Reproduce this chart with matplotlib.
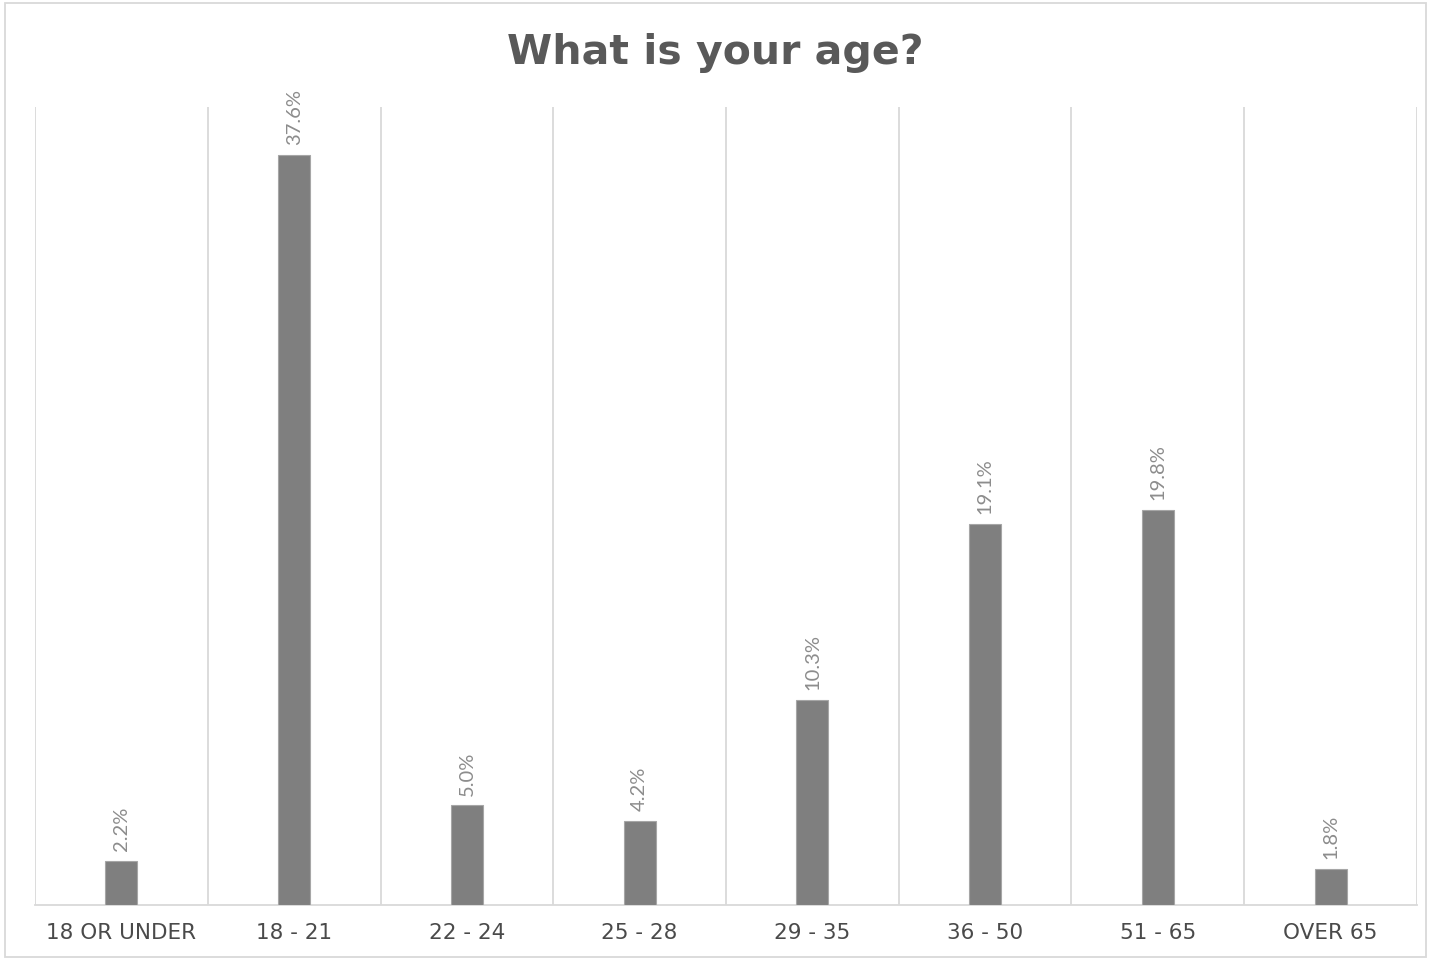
import matplotlib
matplotlib.use("Agg")
import matplotlib.pyplot as plt
import numpy as np

# --- data ---
categories = ['18 OR UNDER', '18 - 21', '22 - 24', '25 - 28',
              '29 - 35', '36 - 50', '51 - 65', 'OVER 65']
percent = [2.2, 37.6, 5.0, 4.2, 10.3, 19.1, 19.8, 1.8]

plt.rcParams['font.family'] = ['DejaVu Sans']

fig = plt.figure(figsize=(14.31, 9.6), dpi=100)
ax = fig.add_axes([0.0245, 0.0573, 0.9657, 0.8312])

x = np.arange(len(categories))
ax.bar(x, percent, width=0.185, color='#7f7f7f', edgecolor='#a6a6a6', linewidth=0.8, zorder=3)

# value labels, rotated
for xi, v in zip(x, percent):
    ax.annotate(f"{v:.1f}%", (xi, v), xytext=(0, 7), textcoords='offset points',
                rotation=90, ha='center', va='bottom', fontsize=14.5, color='#8c8c8c',
                family=['Lato', 'DejaVu Sans'])

ax.set_xlim(-0.5, len(categories) - 0.5)
ax.set_ylim(0, 40)

# category separators
for b in np.arange(-0.5, len(categories), 1.0):
    ax.axvline(b, color='#d9d9d9', linewidth=1.3, zorder=1)

for s in ['top', 'left', 'right']:
    ax.spines[s].set_visible(False)
ax.spines['bottom'].set_color('#d9d9d9')
ax.spines['bottom'].set_linewidth(1.3)

ax.set_yticks([])
ax.set_xticks(x)
ax.set_xticklabels(categories, fontsize=15.5, color='#4a4a4a')
ax.tick_params(axis='x', length=0, pad=13)

fig.text(0.5, 0.945, 'What is your age?', ha='center', va='center',
         fontsize=29.5, fontweight='bold', color='#595959')

# outer chart border
fig.patches.append(plt.Rectangle((0.0035, 0.003), 0.993, 0.994, transform=fig.transFigure,
                                 fill=False, edgecolor='#d9d9d9', linewidth=1.3))

fig.savefig('out.png', dpi=100)
